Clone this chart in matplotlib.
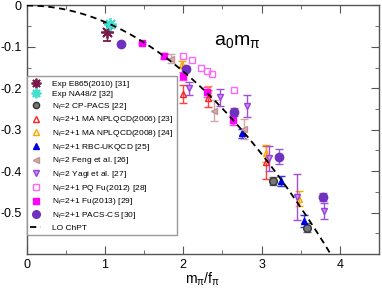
import numpy as np
import matplotlib
matplotlib.use("Agg")
import matplotlib.pyplot as plt
from matplotlib.lines import Line2D

plt.rcParams['font.family'] = ['Liberation Sans', 'DejaVu Sans']
plt.rcParams['mathtext.fontset'] = 'custom'
plt.rcParams['mathtext.rm'] = 'Liberation Sans'
plt.rcParams['mathtext.it'] = 'Liberation Sans'
plt.rcParams['mathtext.default'] = 'regular'

# ---------------- data ----------------
e865_x = [1.03]; e865_y = [-0.064]; e865_e = [0.021]
na48_x = [1.07]; na48_y = [-0.044]; na48_e = [0.004]
cppacs_x = [3.15, 3.58]; cppacs_y = [-0.423, -0.536]; cppacs_e = [0.010, 0.012]
npl06_x = [2.00, 2.32, 3.06]; npl06_y = [-0.214, -0.224, -0.378]; npl06_e = [0.022, 0.020, 0.040]
npl08_x = [1.98, 2.32, 3.06, 3.48]; npl08_y = [-0.142, -0.205, -0.357, -0.466]; npl08_e = [0.008, 0.010, 0.020, 0.018]
rbc_x = [2.75, 3.25, 3.54]; rbc_y = [-0.309, -0.423, -0.520]; rbc_e = [0.010, 0.012, 0.015]
feng_x = [1.85, 2.39, 2.77]; feng_y = [-0.128, -0.254, -0.298]; feng_e = [0.010, 0.025, 0.025]
yagi_x = [2.08, 2.47, 2.81, 3.09, 3.45, 3.80]; yagi_y = [-0.200, -0.222, -0.243, -0.369, -0.463, -0.496]
yagi_e = [0.015, 0.020, 0.027, 0.030, 0.056, 0.020]
pq_x = [2.00, 2.11, 2.23, 2.31, 2.37, 2.65]; pq_y = [-0.122, -0.132, -0.151, -0.158, -0.166, -0.204]
fu13_x = [1.47, 1.75, 2.00, 2.30, 2.63]; fu13_y = [-0.091, -0.122, -0.170, -0.208, -0.277]; fu13_e = [0.003, 0.008, 0.010, 0.012, 0.012]
pacs_x = [1.20, 2.03, 2.65, 3.22, 3.78]; pacs_y = [-0.093, -0.153, -0.257, -0.365, -0.463]; pacs_e = [0.003, 0.006, 0.010, 0.018, 0.010]

labels = ["Exp E865(2010) [31]", "Exp NA48/2 [32]", r"N$_f$=2 CP-PACS [22]",
          r"N$_f$=2+1 MA NPLQCD(2006) [23]", r"N$_f$=2+1 MA NPLQCD(2008) [24]",
          r"N$_f$=2+1 RBC-UKQCD [25]", r"N$_f$=2 Feng et al. [26]", r"N$_f$=2 Yagi et al. [27]",
          r"N$_f$=2+1 PQ Fu(2012) [28]", r"N$_f$=2+1 Fu(2013) [29]", r"N$_f$=2+1 PACS-CS [30]", "LO ChPT"]

fig = plt.figure(figsize=(3.82, 2.89), dpi=100)
ax = fig.add_axes([0.0699, 0.121, 0.922, 0.860])

proxies = []
def eb(x, y, e, label, marker, fc, ec, ecol, ms=5, mew=1.0, lms=4.5):
    ax.errorbar(x, y, yerr=e, marker=marker, ls='none', ms=ms, mfc=fc, mec=ec, mew=mew,
                ecolor=ecol, elinewidth=1.0, capsize=3, capthick=1.0, zorder=3)
    proxies.append(Line2D([], [], marker=marker, ls='none', ms=lms, mfc=fc, mec=ec, mew=mew, label=label))

# LO ChPT
xx = np.linspace(0, 4.5, 400)
ax.plot(xx, -xx**2/(8*np.pi), ls=(0, (3.5, 2.5)), color='black', lw=1.3, zorder=4)

eb(e865_x, e865_y, e865_e, labels[0], (8, 2, 0), '#7a1a4a', '#7a1a4a', '#7a1a4a', ms=9, mew=1.3, lms=7)
eb(na48_x, na48_y, na48_e, labels[1], (8, 2, 0), '#40e0d0', '#40e0d0', '#40e0d0', ms=9, mew=1.3, lms=7)
eb(cppacs_x, cppacs_y, cppacs_e, labels[2], 'o', '#777777', '#333333', '#666666', ms=5.5)
eb(npl06_x, npl06_y, npl06_e, labels[3], '^', 'none', '#ff2020', '#ff4040')
eb(npl08_x, npl08_y, npl08_e, labels[4], '^', 'none', '#ffa500', '#ffa500')
eb(rbc_x, rbc_y, rbc_e, labels[5], '^', '#0000e0', '#0000e0', '#3030ff')
eb(feng_x, feng_y, feng_e, labels[6], '<', '#d4b0b0', '#c49090', '#d0a8a8')
eb(yagi_x, yagi_y, yagi_e, labels[7], 'v', '#c890f0', '#9a40e0', '#a050e0')
ax.plot(pq_x, pq_y, 's', ms=5, mfc='none', mec='#ff66ff', mew=1.0, zorder=3)
proxies.append(Line2D([], [], marker='s', ls='none', ms=4.5, mfc='none', mec='#ff66ff', mew=1.0, label=labels[8]))
eb(fu13_x, fu13_y, fu13_e, labels[9], 's', '#ff00ff', '#ff00ff', '#ff40ff')
eb(pacs_x, pacs_y, pacs_e, labels[10], 'o', '#7030c0', '#7030c0', '#9060d0', ms=6, lms=5.5)
proxies.append(Line2D([], [], ls=(0, (3.5, 2.5)), color='black', lw=1.3, label=labels[11]))

ax.set_xlim(0, 4.5)
ax.set_ylim(-0.6, 0)
ax.set_xticks([0, 1, 2, 3, 4])
ax.set_xticks(np.arange(0, 4.6, 0.5), minor=True)
ax.set_yticks([0, -0.1, -0.2, -0.3, -0.4, -0.5])
ax.set_yticklabels(["0", "-0.1", "-0.2", "-0.3", "-0.4", "-0.5"])
ax.set_yticks(np.arange(-0.6, 0.001, 0.05), minor=True)
ax.tick_params(which='both', direction='in', top=True, right=True, labelsize=9, color='#555555')
ax.tick_params(which='major', length=6)
ax.tick_params(which='minor', length=3)
for s in ax.spines.values():
    s.set_color('#555555')
    s.set_linewidth(1.0)

ax.set_xlabel(r"m$_\pi$/f$_\pi$", fontsize=10, labelpad=0)
ax.text(2.69, -0.088, r"a$_0$m$_\pi$", fontsize=14, ha='center', va='center')

leg = ax.legend(handles=proxies, loc='upper left',
                bbox_to_anchor=(0.0, 0.716), borderaxespad=0, fontsize=6.0,
                handlelength=1.3, handletextpad=1.3, labelspacing=0.32, borderpad=0.45,
                fancybox=False, edgecolor='#999999', framealpha=1)
leg.get_frame().set_linewidth(1.0)

fig.savefig("out.png", dpi=100)
